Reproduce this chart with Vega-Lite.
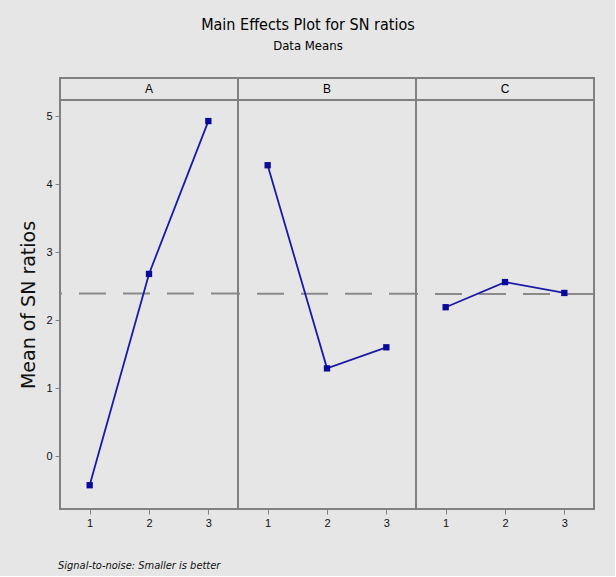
{
  "$schema": "https://vega.github.io/schema/vega-lite/v6.json",
  "background": "#e6e6e6",
  "padding": {"left": 19, "top": 17, "right": 19, "bottom": 5},
  "title": {
    "text": "Main Effects Plot for SN ratios",
    "subtitle": "Data Means",
    "anchor": "middle",
    "font": "Liberation Sans Narrow, DejaVu Sans Condensed, Liberation Sans",
    "subtitleFont": "Liberation Sans Narrow, DejaVu Sans Condensed, Liberation Sans",
    "fontSize": 16,
    "fontWeight": "normal",
    "subtitleFontSize": 13,
    "color": "#000000",
    "subtitleColor": "#000000",
    "subtitlePadding": 7,
    "offset": 24
  },
  "datasets": {
    "effects": [
      {"factor": "A", "level": 1, "sn": -0.43},
      {"factor": "A", "level": 2, "sn": 2.68},
      {"factor": "A", "level": 3, "sn": 4.93},
      {"factor": "B", "level": 1, "sn": 4.28},
      {"factor": "B", "level": 2, "sn": 1.29},
      {"factor": "B", "level": 3, "sn": 1.60},
      {"factor": "C", "level": 1, "sn": 2.19},
      {"factor": "C", "level": 2, "sn": 2.56},
      {"factor": "C", "level": 3, "sn": 2.40}
    ]
  },
  "bounds": "flush",
  "spacing": 0,
  "vconcat": [
    {
      "data": {"name": "effects"},
      "transform": [{"aggregate": [], "groupby": ["factor"]}],
      "width": 534,
      "height": 22,
      "view": {"stroke": null},
      "encoding": {
        "x": {"field": "factor", "type": "nominal", "axis": null,
              "scale": {"paddingInner": 0, "paddingOuter": 0}}
      },
      "layer": [
        {"mark": {"type": "rect", "fill": "#e6e6e6", "stroke": "#808080", "strokeWidth": 2}},
        {"mark": {"type": "text", "font": "Liberation Sans", "fontSize": 12, "color": "#000000", "baseline": "middle"},
         "encoding": {"text": {"field": "factor"}}}
      ]
    },
    {
      "data": {"name": "effects"},
      "facet": {
        "column": {
          "field": "factor",
          "type": "nominal",
          "header": {
            "labels": false,
            "title": "Signal-to-noise: Smaller is better",
            "titleOrient": "bottom",
            "titleAnchor": "start",
            "titleFont": "Liberation Sans Narrow, DejaVu Sans Condensed, Liberation Sans",
            "titleFontSize": 11,
            "titleFontStyle": "italic",
            "titleFontWeight": "normal",
            "titleColor": "#111111",
            "titlePadding": 22
          }
        }
      },
      "spacing": 0,
      "bounds": "flush",
      "spec": {
        "width": 178,
        "height": 409,
        "layer": [
          {
            "mark": {"type": "rule", "color": "#8a8a8a", "strokeWidth": 2, "strokeDash": [27, 17]},
            "transform": [{"aggregate": [{"op": "mean", "field": "sn", "as": "grand"}]}],
            "encoding": {"y": {"field": "grand", "type": "quantitative"}}
          },
          {
            "mark": {"type": "line", "color": "#1a1aa6", "strokeWidth": 1.8,
                     "point": {"shape": "square", "size": 40, "filled": true, "color": "#0a0a9a"}},
            "encoding": {
              "x": {"field": "level", "type": "quantitative",
                    "scale": {"domain": [0.5, 3.5], "nice": false, "zero": false},
                    "axis": {"values": [1, 2, 3], "format": "d", "title": null, "domain": false,
                             "ticks": true, "tickSize": 5, "tickColor": "#808080",
                             "labelFont": "Liberation Sans", "labelFontSize": 11, "labelColor": "#111111",
                             "labelPadding": 3, "grid": false}},
              "y": {"field": "sn", "type": "quantitative",
                    "scale": {"domain": [-0.78, 5.24], "nice": false, "zero": false},
                    "axis": {"values": [0, 1, 2, 3, 4, 5], "format": "d", "title": "Mean of SN ratios", "domain": false,
                             "tickSize": 5, "tickColor": "#808080", "grid": false,
                             "labelFont": "Liberation Sans", "labelFontSize": 11, "labelColor": "#111111",
                             "labelPadding": 3,
                             "titleFont": "DejaVu Sans", "titleFontSize": 19, "titleFontWeight": "normal",
                             "titleColor": "#111111", "titlePadding": 7}}
            }
          }
        ]
      }
    }
  ],
  "config": {
    "view": {"stroke": "#808080", "strokeWidth": 2, "fill": "#e6e6e6"}
  }
}
